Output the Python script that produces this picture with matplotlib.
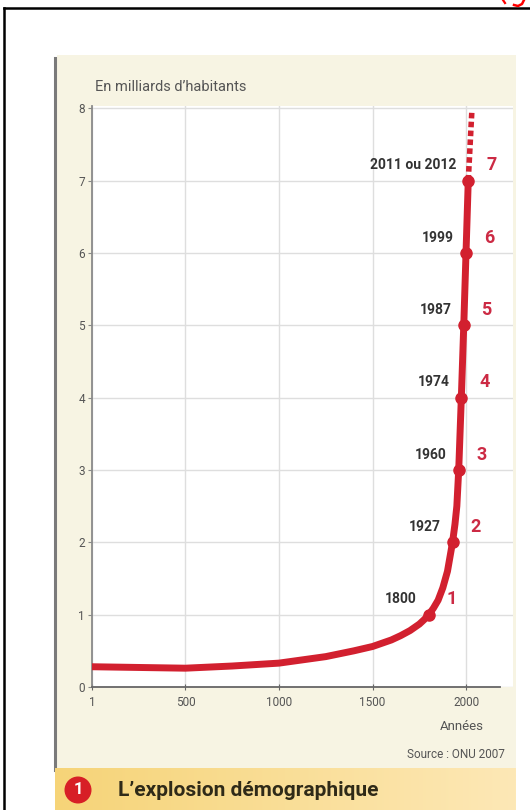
import matplotlib.pyplot as plt
import numpy as np
from matplotlib.patches import Rectangle, Ellipse
from matplotlib.lines import Line2D

plt.rcParams['font.family'] = ['Roboto', 'DejaVu Sans']

# données (milliards d'habitants)
years = [1, 250, 500, 750, 1000, 1250, 1400, 1500, 1600, 1650, 1700, 1750, 1775,
         1800, 1825, 1850, 1875, 1900, 1927, 1940, 1950, 1960, 1974, 1987, 1999, 2011]
population = [0.28, 0.27, 0.26, 0.29, 0.33, 0.42, 0.50, 0.56, 0.65, 0.71, 0.78, 0.87, 0.93,
              1.0, 1.09, 1.2, 1.37, 1.6, 2.0, 2.25, 2.5, 3.0, 4.0, 5.0, 6.0, 7.0]

milestone_years = [1800, 1927, 1960, 1974, 1987, 1999, 2011]
milestone_values = [1, 2, 3, 4, 5, 6, 7]
milestone_labels = ['1800', '1927', '1960', '1974', '1987', '1999', '2011 ou 2012']

forecast_years = [2011, 2030]
forecast_values = [7.0, 7.95]

x_ticks = [1, 500, 1000, 1500, 2000]
y_ticks = [0, 1, 2, 3, 4, 5, 6, 7, 8]

RED = '#d2202f'
W, H = 530, 810


def fx(x):
    return x / W


def fy(y):
    return 1 - y / H


fig = plt.figure(figsize=(5.3, 8.1), dpi=100)

# fond beige du document
fig.add_artist(Rectangle((fx(57), fy(768)), (516 - 57) / W, (768 - 55) / H,
                         transform=fig.transFigure, facecolor='#f7f4e3',
                         edgecolor='none', zorder=-10))
fig.add_artist(Line2D([fx(55), fx(55)], [fy(58), fy(770)], transform=fig.transFigure,
                      color='#7a7a7a', lw=2.2, zorder=-5))

# cadre noir extérieur
fig.add_artist(Line2D([fx(4), fx(530)], [fy(8), fy(8)], transform=fig.transFigure,
                      color='black', lw=1.8))
fig.add_artist(Line2D([fx(4), fx(4)], [fy(8), fy(812)], transform=fig.transFigure,
                      color='black', lw=1.8))
# reste de lettre rouge coupée en haut à droite
fig.add_artist(Line2D([fx(503), fx(505)], [fy(0), fy(3)], transform=fig.transFigure,
                      color='red', lw=1.6))
fig.add_artist(Line2D([fx(524), fx(522), fx(518), fx(514)], [fy(0), fy(4), fy(6), fy(5)],
                      transform=fig.transFigure, color='red', lw=1.8))

# bandeau du titre
band = fig.add_axes([fx(55), 0, (516 - 55) / W, 42 / H])
grad = np.linspace(0, 1, 256).reshape(1, -1)
c0 = np.array([246, 212, 120]) / 255
c1 = np.array([253, 232, 182]) / 255
img = c0[None, None, :] * (1 - grad[..., None]) + c1[None, None, :] * grad[..., None]
band.imshow(img, aspect='auto', extent=[0, 1, 0, 1])
band.axis('off')

fig.add_artist(Ellipse((fx(78), fy(790)), 27 / W, 27 / H, transform=fig.transFigure,
                       facecolor='#d71f26', edgecolor='none', zorder=3))
fig.text(fx(78), fy(790), '1', color='white', fontsize=12, fontweight='bold',
         ha='center', va='center', zorder=4)
fig.text(fx(118), fy(791), "L\u2019explosion démographique", color='#2f2a18',
         fontsize=15, fontweight='bold', ha='left', va='center')

# graphique
ax = fig.add_axes([fx(92), fy(687), (513 - 92) / W, (687 - 106) / H])
ax.set_facecolor('white')
ax.set_xlim(1, 2250)
ax.set_ylim(0, 8.03)

ax.plot(years, population, color=RED, lw=5, solid_capstyle='round',
        solid_joinstyle='round', zorder=3)
ax.plot(forecast_years, forecast_values, color=RED, lw=4,
        linestyle=(0, (1.0, 0.6)), dash_capstyle='butt', zorder=3)
ax.plot(milestone_years, milestone_values, 'o', color=RED, markersize=8, zorder=4)

for yr, val, lab in zip(milestone_years, milestone_values, milestone_labels):
    ax.annotate(lab, (yr, val), xytext=(-8.5, 11), textcoords='offset points',
                ha='right', va='center', fontsize=10, fontweight='bold', color='#333333')
    ax.annotate(str(val), (yr, val), xytext=(16.5, 11), textcoords='offset points',
                ha='center', va='center', fontsize=13, fontweight='bold', color='#cc2a44')

ax.set_xticks(x_ticks)
ax.set_xticklabels([str(t) for t in x_ticks])
ax.set_yticks(y_ticks)
ax.grid(True, color='#dedede', lw=1)
ax.set_axisbelow(True)

for s in ['top', 'right']:
    ax.spines[s].set_visible(False)
ax.spines['bottom'].set_bounds(1, 2180)
ax.spines['bottom'].set_color('#666666')
ax.spines['left'].set_color('#8a8a8a')
ax.spines['bottom'].set_linewidth(1.3)
ax.spines['left'].set_linewidth(1.3)
ax.tick_params(axis='x', direction='inout', length=5, colors='#666666',
               labelcolor='#555555', labelsize=8.5, pad=4)
ax.tick_params(axis='y', direction='out', length=3, colors='#888888',
               labelcolor='#555555', labelsize=8.5, pad=2)

fig.text(fx(95), fy(87), "En milliards d\u2019habitants", color='#555555',
         fontsize=10.5, ha='left', va='center')
fig.text(fx(462), fy(727), 'Années', color='#555555', fontsize=9.5,
         ha='center', va='center')
fig.text(fx(505), fy(755), 'Source : ONU 2007', color='#555555', fontsize=8.5,
         ha='right', va='center')

fig.savefig('out.png', dpi=100)
